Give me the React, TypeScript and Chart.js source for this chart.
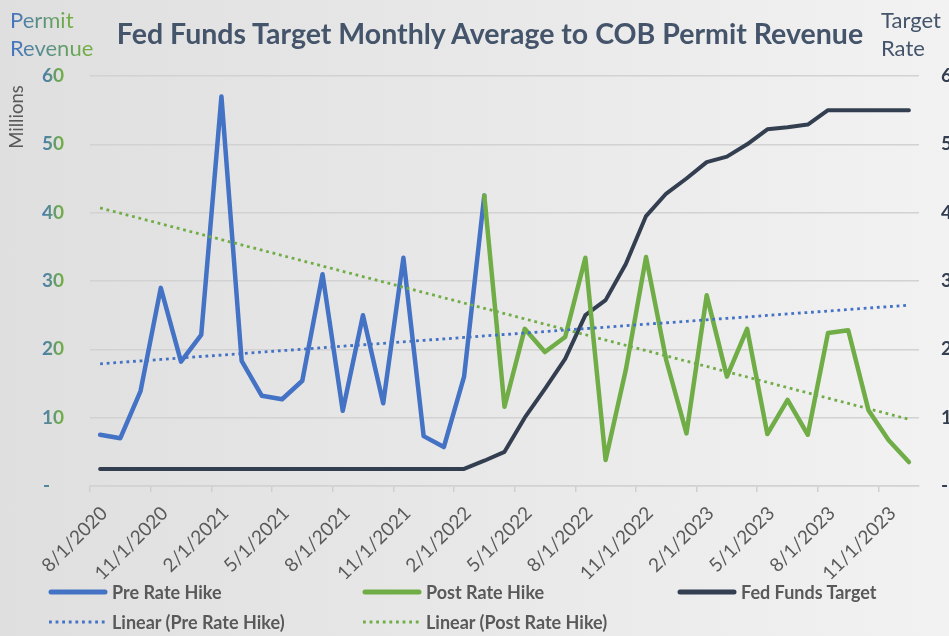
import React, { useEffect, useRef } from 'react';
import { Chart, registerables } from 'chart.js';

Chart.register(...registerables);

// ---------- data ----------
const months = [
  '8/1/2020', '9/1/2020', '10/1/2020', '11/1/2020', '12/1/2020',
  '1/1/2021', '2/1/2021', '3/1/2021', '4/1/2021', '5/1/2021', '6/1/2021',
  '7/1/2021', '8/1/2021', '9/1/2021', '10/1/2021', '11/1/2021', '12/1/2021',
  '1/1/2022', '2/1/2022', '3/1/2022', '4/1/2022', '5/1/2022', '6/1/2022',
  '7/1/2022', '8/1/2022', '9/1/2022', '10/1/2022', '11/1/2022', '12/1/2022',
  '1/1/2023', '2/1/2023', '3/1/2023', '4/1/2023', '5/1/2023', '6/1/2023',
  '7/1/2023', '8/1/2023', '9/1/2023', '10/1/2023', '11/1/2023', '12/1/2023',
];

// Permit revenue (millions), Aug 2020 – Mar 2022
const preRateHike = [
  7.5, 7.0, 13.9, 29.0, 18.2, 22.1, 57.0, 18.3, 13.2, 12.7,
  15.4, 31.0, 11.0, 25.0, 12.1, 33.4, 7.3, 5.7, 16.0, 42.5,
];

// Permit revenue (millions), Mar 2022 – Dec 2023
const postRateHike = [
  42.5, 11.6, 23.0, 19.6, 21.8, 33.4, 3.8, 17.0, 33.5, 18.4, 7.7,
  27.9, 16.0, 23.0, 7.6, 12.6, 7.5, 22.4, 22.8, 11.1, 6.7, 3.5,
];
const postStartIndex = 19;

// Fed funds target (upper bound), monthly average, Aug 2020 – Dec 2023
const fedFundsTarget = [
  0.25, 0.25, 0.25, 0.25, 0.25, 0.25, 0.25, 0.25, 0.25, 0.25,
  0.25, 0.25, 0.25, 0.25, 0.25, 0.25, 0.25, 0.25, 0.25,
  0.37, 0.5, 1.0, 1.42, 1.86, 2.5, 2.72, 3.25, 3.95, 4.28,
  4.5, 4.74, 4.82, 5.0, 5.22, 5.25, 5.29, 5.5, 5.5, 5.5, 5.5, 5.5,
];

const seriesNames = ['Pre Rate Hike', 'Post Rate Hike', 'Fed Funds Target', 'Linear (Pre Rate Hike)', 'Linear (Post Rate Hike)'];

const BLUE = '#4472C4';
const GREEN = '#70AD47';
const NAVY = '#333F50';
const TEXT_GRAY = '#595959';
const TITLE_COLOR = '#44546A';
const FONT = 'Lato, "Open Sans", "DejaVu Sans", sans-serif';

// least-squares linear trendline over the whole category range
function linearTrend(values: number[], start: number, total: number): number[] {
  const n = values.length;
  let sx = 0, sy = 0, sxy = 0, sxx = 0;
  values.forEach((v, k) => {
    const x = start + k;
    sx += x; sy += v; sxy += x * v; sxx += x * x;
  });
  const b = (n * sxy - sx * sy) / (n * sxx - sx * sx);
  const a = (sy - b * sx) / n;
  return Array.from({ length: total }, (_, i) => a + b * i);
}

function pad(values: number[], start: number, total: number): (number | null)[] {
  return Array.from({ length: total }, (_, i) =>
    i >= start && i < start + values.length ? values[i - start] : null);
}

// tick labels are drawn right-aligned at a translated origin (x = 0)
function tickGradient(c: any) {
  const ctx = c.chart.ctx as CanvasRenderingContext2D;
  const g = ctx.createLinearGradient(-24, 0, -3, 0);
  g.addColorStop(0, BLUE);
  g.addColorStop(1, GREEN);
  return g;
}

export default function App() {
  const canvasRef = useRef<HTMLCanvasElement | null>(null);

  useEffect(() => {
    if (!canvasRef.current) return;
    const total = months.length;
    const chart = new Chart(canvasRef.current, {
      type: 'line',
      data: {
        labels: months,
        datasets: [
          {
            label: seriesNames[3],
            data: linearTrend(preRateHike, 0, total),
            borderColor: BLUE,
            borderWidth: 2.8,
            borderDash: [2.8, 3.8],
            pointRadius: 0,
            yAxisID: 'y',
          },
          {
            label: seriesNames[4],
            data: linearTrend(postRateHike, postStartIndex, total),
            borderColor: GREEN,
            borderWidth: 2.8,
            borderDash: [2.8, 3.8],
            pointRadius: 0,
            yAxisID: 'y',
          },
          {
            label: seriesNames[1],
            data: pad(postRateHike, postStartIndex, total),
            borderColor: GREEN,
            borderWidth: 4.5,
            borderJoinStyle: 'round',
            borderCapStyle: 'round',
            pointRadius: 0,
            spanGaps: false,
            yAxisID: 'y',
          },
          {
            label: seriesNames[0],
            data: pad(preRateHike, 0, total),
            borderColor: BLUE,
            borderWidth: 4.5,
            borderJoinStyle: 'round',
            borderCapStyle: 'round',
            pointRadius: 0,
            spanGaps: false,
            yAxisID: 'y',
          },
          {
            label: seriesNames[2],
            data: fedFundsTarget,
            borderColor: NAVY,
            borderWidth: 4,
            borderJoinStyle: 'round',
            borderCapStyle: 'round',
            pointRadius: 0,
            yAxisID: 'y1',
          },
        ],
      },
      options: {
        animation: false,
        responsive: false,
        devicePixelRatio: 1,
        layout: { padding: { top: 76, left: 0, right: 0, bottom: 0 } },
        plugins: {
          legend: { display: false },
          title: { display: false },
          tooltip: { enabled: false },
        },
        scales: {
          x: {
            type: 'category',
            offset: true,
            grid: {
              offset: true,
              drawOnChartArea: false,
              drawTicks: true,
              tickLength: 6,
              lineWidth: 1.5,
              tickColor: (c: any) => (c.index % 3 === 0 ? '#cfcfcf' : 'rgba(0,0,0,0)'),
            },
            border: { display: true, color: '#d2d2d2', width: 1.5 },
            ticks: {
              autoSkip: false,
              maxRotation: 45,
              minRotation: 45,
              padding: 10,
              labelOffset: 4,
              color: TEXT_GRAY,
              font: { family: FONT, size: 19 },
              callback: (_v: any, i: number) => (i % 3 === 0 ? months[i] : ''),
            },
            afterFit: (s: any) => { s.height = 150; },
          },
          y: {
            position: 'left',
            min: 0,
            max: 60,
            ticks: {
              stepSize: 10,
              padding: 26,
              color: tickGradient,
              font: { family: FONT, size: 19, weight: 'bold' },
              callback: (v: any) => (Number(v) === 0 ? '-   ' : String(v)),
            },
            grid: { color: '#d2d2d2', lineWidth: 1.5, drawTicks: false },
            border: { display: false },
            afterFit: (s: any) => { s.width = 90; },
          },
          y1: {
            position: 'right',
            min: 0,
            max: 6,
            ticks: {
              stepSize: 1,
              padding: 22,
              color: NAVY,
              font: { family: FONT, size: 19, weight: 'bold' },
              callback: (v: any) => (Number(v) === 0 ? '-' : String(v)),
            },
            grid: { display: false, drawTicks: false },
            border: { display: false },
            afterFit: (s: any) => { s.width = 30; },
          },
        },
      },
    });
    return () => chart.destroy();
  }, []);

  const gradText: React.CSSProperties = {
    display: 'inline-block',
    background: `linear-gradient(to right, ${BLUE} 0%, ${GREEN} 90%)`,
    WebkitBackgroundClip: 'text',
    backgroundClip: 'text',
    color: 'transparent',
  };

  const abs = (left: number, top: number, extra: React.CSSProperties = {}): React.CSSProperties => ({
    position: 'absolute', left, top, whiteSpace: 'nowrap', lineHeight: 1, fontFamily: FONT, ...extra,
  });

  const legendItems = [
    { name: seriesNames[0], color: BLUE, dotted: false, x: 48, y: 592 },
    { name: seriesNames[1], color: GREEN, dotted: false, x: 362, y: 592 },
    { name: seriesNames[2], color: NAVY, dotted: false, x: 677, y: 592 },
    { name: seriesNames[3], color: BLUE, dotted: true, x: 48, y: 622 },
    { name: seriesNames[4], color: GREEN, dotted: true, x: 362, y: 622 },
  ];

  return (
    <div style={{
      position: 'fixed', left: 0, top: 0, width: 949, height: 636, overflow: 'hidden',
      background: 'linear-gradient(to right, #dfdfdf 0%, #e8e8e8 50%, #f2f2f2 100%)',
    }}>
      <canvas ref={canvasRef} width={949} height={636}
        style={{ position: 'absolute', left: 0, top: 0, width: 949, height: 636 }} />

      <div style={abs(490, 19, { fontSize: 28.5, fontWeight: 700, color: TITLE_COLOR, transform: 'translateX(-50%)' })}>
        Fed Funds Target Monthly Average to COB Permit Revenue
      </div>

      <div style={abs(10, 6, { fontSize: 22, lineHeight: '28px' })}>
        <span style={gradText}>Permit</span><br />
        <span style={gradText}>Revenue</span>
      </div>

      <div style={abs(881, 6, { fontSize: 22, lineHeight: '28px', color: TITLE_COLOR })}>
        Target<br />Rate
      </div>

      <div style={abs(16, 117, { fontSize: 18.5, color: TEXT_GRAY, transform: 'translate(-50%, -50%) rotate(-90deg)' })}>
        Millions
      </div>

      {legendItems.map((it) => (
        <div key={it.name} style={abs(it.x, it.y - 9, { height: 18 })}>
          <svg width={60} height={8} style={{ position: 'absolute', left: 0, top: 5 }}>
            {it.dotted ? (
              <line x1={1} y1={4} x2={57} y2={4} stroke={it.color} strokeWidth={2.8} strokeDasharray="2.8 3.8" />
            ) : (
              <line x1={3} y1={4} x2={57} y2={4} stroke={it.color} strokeWidth={5} strokeLinecap="round" />
            )}
          </svg>
          <span style={{ position: 'absolute', left: 64, top: -0.5, fontSize: 18, fontWeight: 700, color: TEXT_GRAY }}>
            {it.name}
          </span>
        </div>
      ))}
    </div>
  );
}
